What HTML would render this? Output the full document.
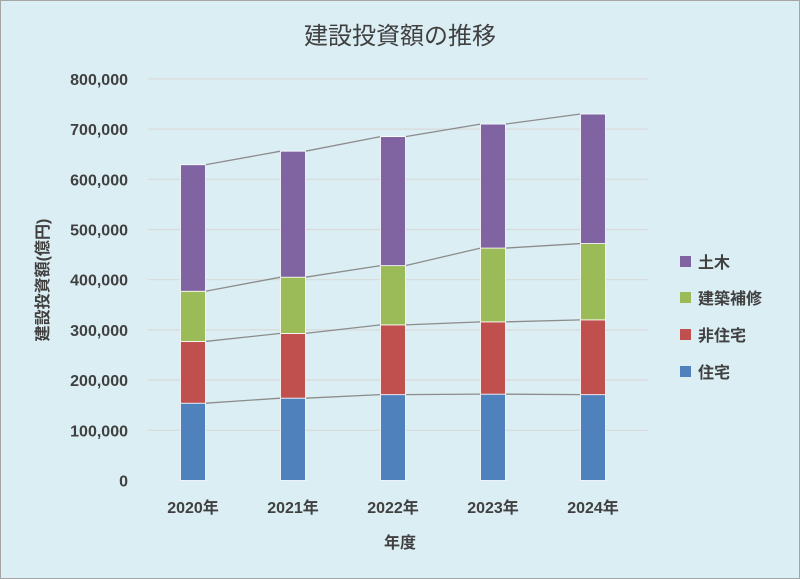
<!DOCTYPE html>
<html><head><meta charset="utf-8"><style>
body{margin:0;width:800px;height:579px;overflow:hidden;background:#fff}
svg{display:block;font-family:"Liberation Sans","Noto Sans CJK JP",sans-serif}
</style></head><body>
<svg id="chart" width="800" height="579">
<rect x="0.5" y="0.5" width="799" height="578" fill="#dbeef4" stroke="#a6a6a6"/>
<text x="400" y="44" text-anchor="middle" font-size="24" fill="#404040">建設投資額の推移</text>
<g id="grid"></g><g id="yticks"></g><g id="connectors"></g><g id="bars"></g><g id="xticks"></g>
<text x="400" y="548" text-anchor="middle" font-size="16" font-weight="bold" fill="#404040">年度</text>
<text transform="translate(48,280) rotate(-90)" text-anchor="middle" font-size="16" font-weight="bold" fill="#404040">建設投資額(億円)</text>
<g id="legend"></g>
</svg>
<script>
const categories=["2020年","2021年","2022年","2023年","2024年"];
const seriesNames=["住宅","非住宅","建築補修","土木"];
const housing=[154000,164000,171000,172000,171000];
const nonHousing=[123000,129000,139000,144000,149000];
const repair=[100000,112000,118000,147000,152000];
const civil=[252000,251000,257000,247000,258000];
const yTicks=[0,100000,200000,300000,400000,500000,600000,700000,800000];
const colors=["#4f81bd","#c0504d","#9bbb59","#8064a2"];
const series=[housing,nonHousing,repair,civil];
const NS="http://www.w3.org/2000/svg";
const x0=148,x1=648,y0=480.5,yPer=50.2/100000,bw=25;
const yS=v=>y0-v*yPer;
const xC=i=>x0+(i+0.5)*(x1-x0)/categories.length-5;
function mk(t,a,p){const e=document.createElementNS(NS,t);for(const k in a)e.setAttribute(k,a[k]);document.getElementById(p).appendChild(e);return e;}
yTicks.forEach(v=>{
 if(v>0){const l=mk("line",{x1:x0,x2:x1,y1:yS(v),y2:yS(v),stroke:"#d9d9d9","stroke-width":1.2},"grid");
 
 }
 const t=mk("text",{x:128,y:yS(v)+6,"text-anchor":"end","font-size":16,"font-weight":"bold",fill:"#404040"},"yticks");
 t.textContent=v.toLocaleString("en-US");
 
 
});
const cum=categories.map(()=>0);
series.forEach((s,si)=>{
 const tops=[];
 categories.forEach((c,i)=>{
  const b=cum[i];cum[i]+=s[i];tops.push(cum[i]);
  const r=mk("rect",{x:xC(i)-bw/2,y:yS(cum[i]),width:bw,height:yS(b)-yS(cum[i]),fill:colors[si],stroke:"#fff","stroke-width":0.8},"bars");
  
  
 });
 for(let i=0;i<categories.length-1;i++){
  const l=mk("line",{x1:xC(i)+bw/2,y1:yS(tops[i]),x2:xC(i+1)-bw/2,y2:yS(tops[i+1]),stroke:"#8c8c8c","stroke-width":1.3},"connectors");
  
  
 }
});
categories.forEach((c,i)=>{
 const t=mk("text",{x:xC(i),y:513,"text-anchor":"middle","font-size":16,"font-weight":"bold",fill:"#404040"},"xticks");
 t.textContent=c;
 
 
});
const legY=[372,335,298,262];
seriesNames.forEach((n,si)=>{
 const r=mk("rect",{x:680,y:legY[si]-6,width:11,height:11,fill:colors[si]},"legend");
 
 
 const t=mk("text",{x:698,y:legY[si]+6,"font-size":16,"font-weight":"bold",fill:"#404040"},"legend");
 t.textContent=n;
 
 
});
</script>
</body></html>
